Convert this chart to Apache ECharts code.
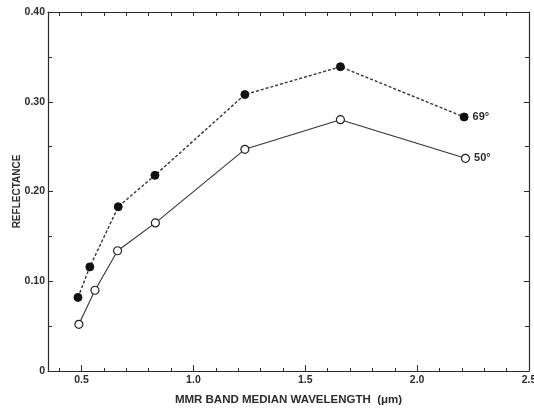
<!DOCTYPE html>
<html>
<head>
<meta charset="utf-8">
<script src="https://cdn.jsdelivr.net/npm/echarts@6/dist/echarts.min.js"></script>
<style>
html,body{margin:0;padding:0;background:#fff;}
#c{width:534px;height:408px;}
</style>
</head>
<body>
<div id="c"></div>
<script>
// Data
var x69 = [0.484, 0.537, 0.664, 0.828, 1.230, 1.657, 2.210];
var y69 = [0.082, 0.116, 0.183, 0.218, 0.308, 0.339, 0.283];
var x50 = [0.488, 0.560, 0.661, 0.830, 1.230, 1.657, 2.216];
var y50 = [0.052, 0.090, 0.134, 0.165, 0.247, 0.280, 0.237];
var label69 = "69°";
var label50 = "50°";
var xMajorTicks = [0.5, 1.0, 1.5, 2.0, 2.5];
var xMinorTicks = [0.4, 0.6, 0.7, 0.8, 0.9, 1.1, 1.2, 1.3, 1.4, 1.6, 1.7, 1.8, 1.9, 2.1, 2.2, 2.3, 2.4];
var xTitle = "MMR BAND MEDIAN WAVELENGTH  (\u03bcm)";
var yTitle = "REFLECTANCE";

function pairs(xs, ys) { return xs.map(function (v, i) { return [v, ys[i]]; }); }

var ink = '#2b2b2b';
var font = '"Liberation Sans", Arial, sans-serif';

var chart = echarts.init(document.getElementById('c'), null, {renderer: 'canvas'});
function lastLabel(txt) {
  return {
    show: true, position: 'right', distance: 4,
    formatter: function (p) { return p.dataIndex === 6 ? txt : ''; },
    color: ink, fontSize: 11, fontWeight: 'bold', fontFamily: font
  };
}
chart.setOption({
  animation: false,
  backgroundColor: '#fff',
  grid: {left: 48, right: 5, top: 12, bottom: 37, containLabel: false, outerBoundsMode: 'none'},
  xAxis: [
    {
      type: 'value', min: 0.35, max: 2.5, position: 'bottom',
      name: xTitle, nameLocation: 'middle', nameGap: 23,
      nameTextStyle: {color: ink, fontSize: 11.5, fontFamily: font, fontWeight: 'bold'},
      axisLine: {show: true, lineStyle: {color: ink, width: 1.2}},
      axisTick: {show: true, inside: true, length: 6, customValues: xMajorTicks, lineStyle: {color: ink}},
      axisLabel: {show: true, customValues: xMajorTicks, margin: 4, color: ink, fontSize: 10.5, fontWeight: 'bold', fontFamily: font,
        hideOverlap: false, formatter: function (v) { return v.toFixed(1); }},
      splitLine: {show: false}
    },
    {
      type: 'value', min: 0.35, max: 2.5, position: 'bottom',
      axisLine: {show: false},
      axisTick: {show: true, inside: true, length: 3, customValues: xMinorTicks, lineStyle: {color: ink}},
      axisLabel: {show: false},
      splitLine: {show: false}
    },
    {
      type: 'value', min: 0.35, max: 2.5, position: 'top',
      axisLine: {show: true, lineStyle: {color: ink, width: 1.2}},
      axisTick: {show: true, inside: true, length: 4, customValues: xMajorTicks.concat(xMinorTicks), lineStyle: {color: ink}},
      axisLabel: {show: false},
      splitLine: {show: false}
    }
  ],
  yAxis: [
    {
      type: 'value', min: 0, max: 0.4, interval: 0.1, position: 'left',
      name: yTitle, nameLocation: 'middle', nameGap: 26, nameMoveOverlap: false,
      nameTextStyle: {color: ink, fontSize: 10, fontFamily: font, fontWeight: 'bold'},
      axisLine: {show: true, lineStyle: {color: ink, width: 1.2}},
      axisTick: {show: true, inside: true, length: 5, lineStyle: {color: ink}},
      minorTick: {show: true, splitNumber: 2, length: 4, lineStyle: {color: ink}},
      axisLabel: {show: true, margin: 3, color: ink, fontSize: 10.5, fontWeight: 'bold', fontFamily: font,
        formatter: function (v) { return v === 0 ? '0' : v.toFixed(2); }},
      splitLine: {show: false}
    },
    {
      type: 'value', min: 0, max: 0.4, interval: 0.1, position: 'right',
      axisLine: {show: true, lineStyle: {color: ink, width: 1.2}},
      axisTick: {show: true, inside: true, length: 5, lineStyle: {color: ink}},
      minorTick: {show: true, splitNumber: 2, length: 4, lineStyle: {color: ink}},
      axisLabel: {show: false},
      splitLine: {show: false}
    }
  ],
  series: [
    {
      type: 'line', name: label69, data: pairs(x69, y69), xAxisIndex: 0, yAxisIndex: 0,
      symbol: 'circle', symbolSize: 8,
      itemStyle: {color: '#111', borderColor: '#111', borderWidth: 1},
      lineStyle: {color: '#333', width: 1.4, type: [3, 2]},
      label: lastLabel(label69)
    },
    {
      type: 'line', name: label50, data: pairs(x50, y50), xAxisIndex: 0, yAxisIndex: 0,
      symbol: 'circle', symbolSize: 8,
      itemStyle: {color: '#fff', borderColor: '#222', borderWidth: 1.2},
      lineStyle: {color: '#333', width: 1.1},
      label: lastLabel(label50)
    }
  ]
});
</script>
</body>
</html>
